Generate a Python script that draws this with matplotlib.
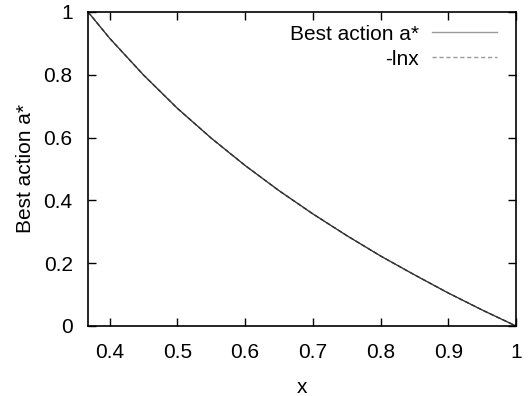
import matplotlib.pyplot as plt

plt.rcParams['font.family'] = ['Liberation Sans', 'DejaVu Sans']

# values
x_vals = [0.368, 0.40, 0.45, 0.50, 0.55, 0.60, 0.65, 0.70, 0.75, 0.80, 0.85, 0.90, 0.95, 1.00]
best_action = [1.000, 0.916, 0.799, 0.693, 0.598, 0.511, 0.431, 0.357, 0.288, 0.223, 0.163, 0.105, 0.051, 0.000]
neg_lnx = [1.000, 0.916, 0.799, 0.693, 0.598, 0.511, 0.431, 0.357, 0.288, 0.223, 0.163, 0.105, 0.051, 0.000]

x_ticks = [0.4, 0.5, 0.6, 0.7, 0.8, 0.9, 1.0]
x_labels = ["0.4", "0.5", "0.6", "0.7", "0.8", "0.9", "1"]
y_ticks = [0, 0.2, 0.4, 0.6, 0.8, 1.0]
y_labels = ["0", "0.2", "0.4", "0.6", "0.8", "1"]

FS = 15

fig = plt.figure(figsize=(5.31, 3.96), dpi=100)
ax = fig.add_axes([0.1657, 0.1768, 0.806, 0.793])

ax.plot(x_vals, best_action, color="#333333", linewidth=1.0, label="Best action a*")
ax.plot(x_vals, neg_lnx, color="#333333", linewidth=1.0, linestyle=(0, (3, 2)), label="-lnx")

ax.set_xlim(0.3679, 1.0)
ax.set_ylim(0, 1)
ax.set_xticks(x_ticks)
ax.set_xticklabels(x_labels)
ax.set_yticks(y_ticks)
ax.set_yticklabels(y_labels)
ax.tick_params(direction="in", length=6, width=1, top=True, right=True, labelsize=FS)
ax.tick_params(axis="x", pad=12)
ax.tick_params(axis="y", pad=11)
for s in ax.spines.values():
    s.set_linewidth(1.2)

ax.set_xlabel("x", fontsize=FS, labelpad=12)
ax.set_ylabel("Best action a*", fontsize=FS, labelpad=6)

leg = ax.legend(loc="upper right", bbox_to_anchor=(0.9556, 0.96), frameon=False,
                markerfirst=False, fontsize=FS, handlelength=3.1, handletextpad=0.65,
                labelspacing=0.3, borderpad=0, borderaxespad=0)
for ln in leg.get_lines():
    ln.set_color("#999999")

plt.savefig("out.png", dpi=100)
